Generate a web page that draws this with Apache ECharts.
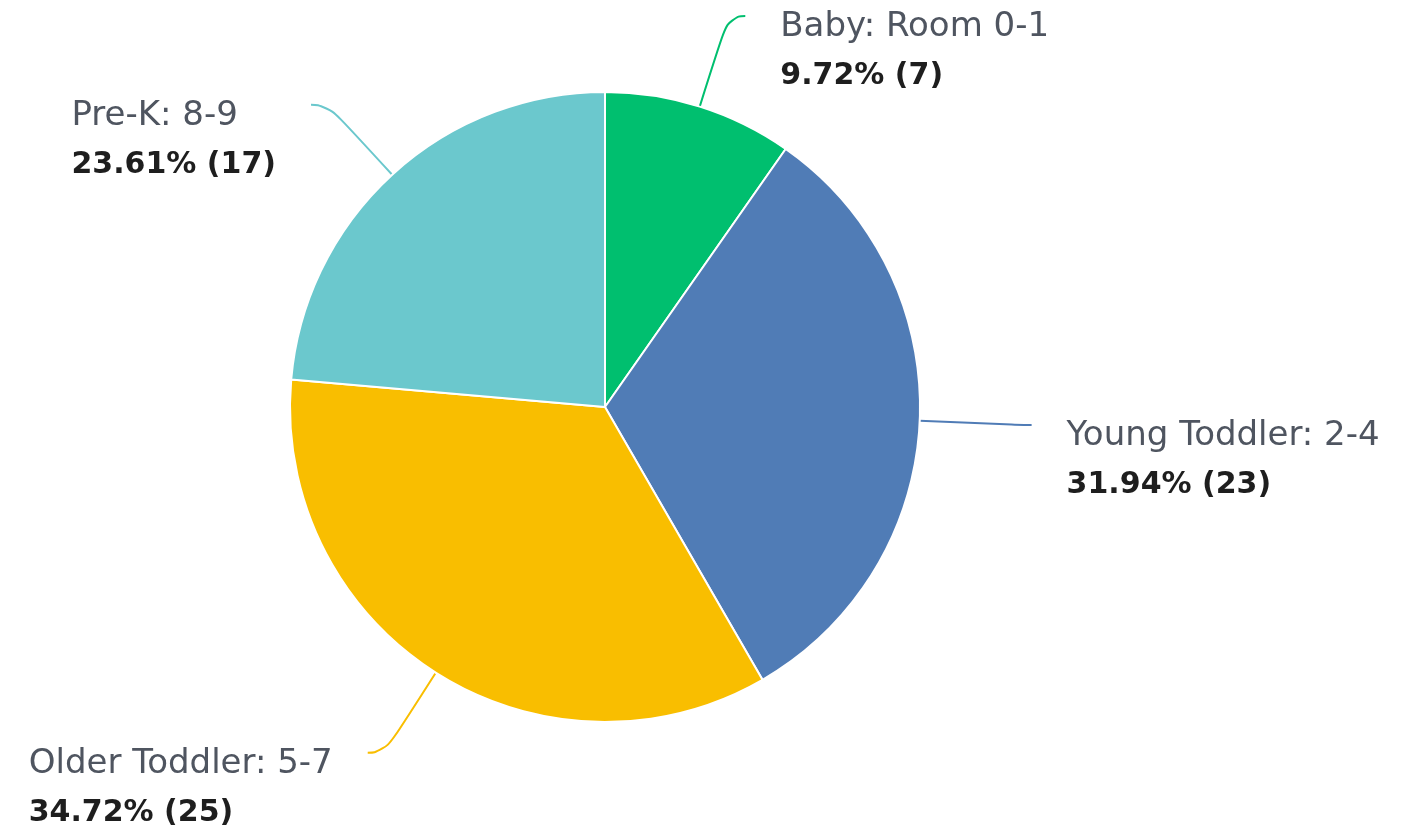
<!DOCTYPE html>
<html>
<head>
<meta charset="utf-8">
<script src="https://cdn.jsdelivr.net/npm/echarts@6/dist/echarts.min.js"></script>
<style>
  html, body { margin: 0; padding: 0; background: #ffffff; }
  #chart { width: 1402px; height: 829px; }
</style>
</head>
<body>
<div id="chart"></div>
<script>
// 数据
const categories = ['Baby: Room 0-1', 'Young Toddler: 2-4', 'Older Toddler: 5-7', 'Pre-K: 8-9']
const counts = [7, 23, 25, 17]
const colors = ['#00BF6F', '#507CB6', '#F9BE00', '#6BC8CD']

const total = counts.reduce((a, b) => a + b, 0)

const myChart = echarts.init(document.getElementById('chart'))

const seriesData = categories.map((name, i) => ({
  name: name,
  value: counts[i],
  itemStyle: { color: colors[i] }
}))

const options = {
  animation: false,
  series: [{
    type: 'pie',
    center: [605, 407],
    radius: 315,
    startAngle: 90,
    clockwise: true,
    avoidLabelOverlap: false,
    itemStyle: {
      borderColor: '#ffffff',
      borderWidth: 2
    },
    label: {
      show: true,
      position: 'outside',
      padding: [72, 30, 0, 30],
      // 百分比自己算，避免四舍五入凑整到100
      formatter: (p) => '{n|' + p.name + '}\n{v|' + (p.value / total * 100).toFixed(2) + '% (' + p.value + ')}',
      rich: {
        n: {
          fontFamily: 'DejaVu Sans',
          fontSize: 34,
          lineHeight: 49,
          color: '#4f5560',
          align: 'left'
        },
        v: {
          fontFamily: 'DejaVu Sans',
          fontSize: 30,
          fontWeight: 'bold',
          lineHeight: 49,
          color: '#1e1e1e',
          align: 'left'
        }
      }
    },
    labelLine: {
      show: true,
      length: 95,
      length2: 17,
      smooth: 0.6,
      lineStyle: { width: 2 }
    },
    data: seriesData
  }]
}
myChart.setOption(options)
</script>
</body>
</html>
